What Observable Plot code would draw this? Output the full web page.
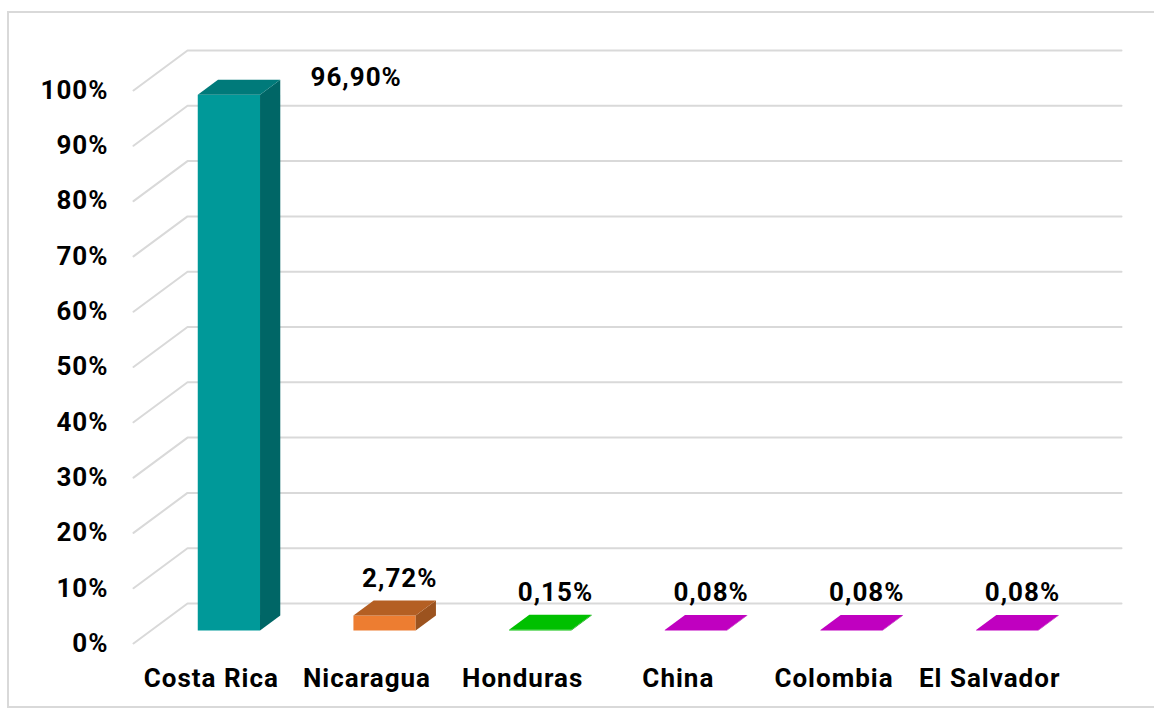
<!DOCTYPE html>
<html>
<head>
<meta charset="utf-8">
<script src="https://cdn.jsdelivr.net/npm/d3@7"></script>
<script src="https://cdn.jsdelivr.net/npm/@observablehq/plot@0.6"></script>
<style>
  html, body { margin: 0; padding: 0; background: #fff; width: 1154px; height: 708px; overflow: hidden; }
  #frame { position: absolute; left: 7px; top: 11px; width: 1200px; height: 693px; border: 2px solid #d9d9d9; box-sizing: content-box; }
  #chart { position: absolute; left: 0; top: 0; }
  #chart svg text { letter-spacing: 1px; }
</style>
</head>
<body>
<div id="frame"></div>
<div id="chart"></div>
<script>
// ---- data ----
const categories = ["Costa Rica", "Nicaragua", "Honduras", "China", "Colombia", "El Salvador"];
const values = [96.90, 2.72, 0.15, 0.08, 0.08, 0.08];
const valueLabels = ["96,90%", "2,72%", "0,15%", "0,08%", "0,08%", "0,08%"];
const yTicks = [0, 10, 20, 30, 40, 50, 60, 70, 80, 90, 100];
const yTickLabels = ["0%", "10%", "20%", "30%", "40%", "50%", "60%", "70%", "80%", "90%", "100%"];

// ---- styles ----
const frontColors = ["#009999", "#ed7d31", "#00c000", "#c000c0", "#c000c0", "#c000c0"];
const topColors   = ["#007a7a", "#b45f23", "#00c000", "#c000c0", "#c000c0", "#c000c0"];
const sideColors  = ["#006666", "#9c531f", "#00a000", "#a000a0", "#a000a0", "#a000a0"];
const FONT = "Roboto, 'Noto Sans', sans-serif";

// 3D projection (oblique) expressed in scale units
const DX = 0.347;   // full depth offset along x (category units)
const DY = 7.23;    // full depth offset along y (percentage units)
const F0 = 0.325, F1 = 0.70; // bar front / back depth fractions
const HW = 0.2;     // bar half width (category units)

const rows = categories.map((c, i) => ({i, c, v: values[i], label: valueLabels[i]}));

// gridlines: left wall diagonal + back wall horizontal
const grid = [];
yTicks.forEach(t => {
  grid.push({t, x: -0.5, y: t});
  grid.push({t, x: -0.5 + DX, y: t + DY});
  grid.push({t, x: categories.length - 0.5 + DX, y: t + DY});
});

// bar faces as closed polygons
const faces = [];
rows.forEach(({i, v}) => {
  const x0 = i - HW + F0 * DX, x1 = i + HW + F0 * DX;
  const y0 = F0 * DY, yt = v + F0 * DY;
  const bx = (F1 - F0) * DX, by = (F1 - F0) * DY;
  const add = (key, color, pts) => pts.forEach(([x, y]) => faces.push({key: key + i, color, x, y}));
  add("front", frontColors[i], [[x0, y0], [x1, y0], [x1, yt], [x0, yt]]);
  add("side", sideColors[i], [[x1, y0], [x1 + bx, y0 + by], [x1 + bx, yt + by], [x1, yt]]);
  add("top", topColors[i], [[x0, yt], [x1, yt], [x1 + bx, yt + by], [x0 + bx, yt + by]]);
});

const plot = Plot.plot({
  width: 1154,
  height: 708,
  marginLeft: 133,
  marginRight: 87,
  marginTop: 90,
  marginBottom: 65,
  style: {fontFamily: FONT, fontSize: "26px", fontWeight: "700", color: "#000", background: "transparent", overflow: "visible"},
  x: {domain: [-0.5, categories.length - 0.5]},
  y: {domain: [0, 100]},
  marks: [
    Plot.line(grid, {x: "x", y: "y", z: "t", stroke: "#d9d9d9", strokeWidth: 2}),
    Plot.line(faces, {x: "x", y: "y", z: "key", fill: "color", stroke: "none", curve: "linear-closed"}),
    Plot.axisY({ticks: yTicks, tickFormat: (d) => yTickLabels[yTicks.indexOf(d)], tickSize: 0, tickPadding: 25,
      label: null, fontSize: 26, fontWeight: "700", fill: "#000"}),
    Plot.axisX({ticks: categories.map((_, i) => i), tickFormat: (i) => categories[i], tickSize: 0, tickPadding: 25,
      label: null, fontSize: 26, fontWeight: "700", fill: "#000"}),
    Plot.text(rows.filter(d => d.i > 0), {x: d => d.i + F1 * DX, y: d => d.v + F1 * DY, text: "label",
      dx: -5, dy: -22, fontSize: 26, fontWeight: "700", fill: "#000"}),
    Plot.text(rows.filter(d => d.i === 0), {x: d => d.i + F1 * DX, y: d => d.v + F1 * DY, text: "label",
      dx: 107, dy: -2, fontSize: 26, fontWeight: "700", fill: "#000"})
  ]
});
document.getElementById("chart").appendChild(plot);
</script>
</body>
</html>
